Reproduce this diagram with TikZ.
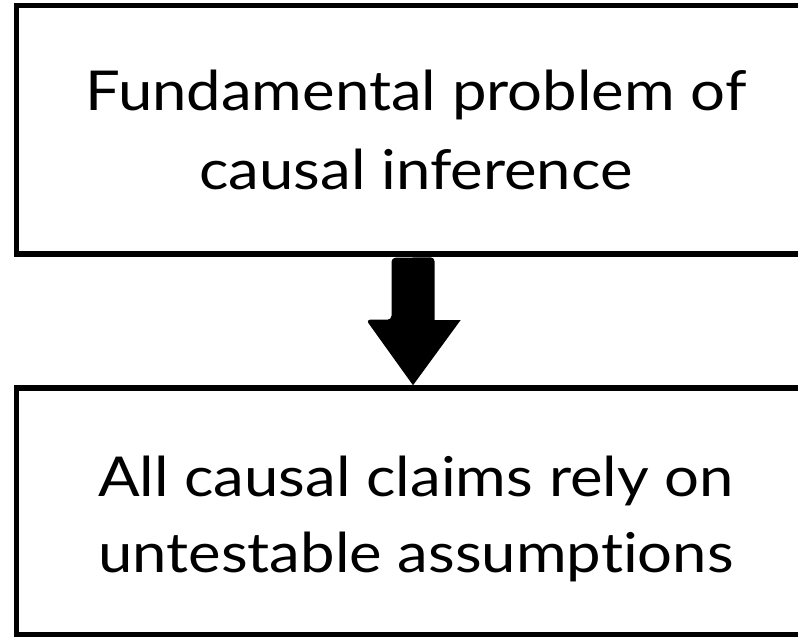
\documentclass[tikz,border=0pt]{standalone}
\usepackage{fontspec}
\setmainfont[FakeStretch=1.12,Ligatures=NoCommon]{Lato}
\begin{document}
\begin{tikzpicture}[x=1pt,y=1pt,
  box/.style={draw=black,line width=5.5pt,minimum width=798.5pt,inner sep=0pt,fill=none},
  txt/.style={anchor=base,inner sep=0pt,font=\fontsize{55}{78}\selectfont}]
\useasboundingbox (0,0) rectangle (798,637);
\clip (0,0) rectangle (798,637);
\node[box,minimum height=248.5pt] (top) at (415.75,507.25) {};
\node[box,minimum height=247pt] (bot) at (415.75,125.5) {};
\node[txt] (t1) at (416,526) {Fundamental problem of};
\node[txt] (t2) at (416,447) {causal inference};
\node[txt] (b1) at (416,140) {All causal claims rely on};
\node[txt] (b2) at (416,64) {untestable assumptions};
% block arrow from top box to bottom box
\fill[black,rounded corners=4pt] ([xshift=-21.5pt,yshift=-1pt]top.south -| 413,0) coordinate (sl)
  -- ++(0,-62) -- ++(-25.5,0) [sharp corners] -- ([yshift=-0pt]bot.north -| 413,0) coordinate (tip)
  -- ++(47.5,65) -- ++(-26,0) [rounded corners=4pt] -- ++(0,63) -- cycle;
\end{tikzpicture}
\end{document}
